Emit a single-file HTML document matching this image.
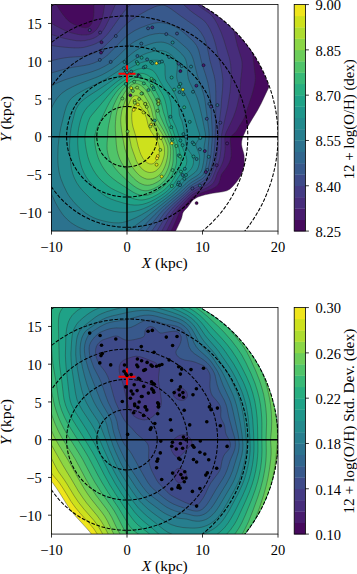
<!DOCTYPE html>
<html><head><meta charset="utf-8"><title>fig</title>
<style>
html,body{margin:0;padding:0;background:#fff;}
svg{display:block;}
.t{font-family:"Liberation Serif",serif;font-size:14.5px;fill:#000;}
</style></head><body>
<svg width="357" height="574" viewBox="0 0 357 574">
<rect width="357" height="574" fill="#fff"/>
<clipPath id="cr1"><rect x="51.50" y="4.57" width="226.50" height="226.50"/></clipPath>
<clipPath id="cc1"><circle cx="127.00" cy="136.70" r="151.00"/></clipPath>
<g clip-path="url(#cr1)">
<g clip-path="url(#cc1)">
<path d="M44,238.6 172,238.6 181,219.8 181.8,217.5 182.6,213.7 183.2,212.2 184.3,210.7 187.4,207.5 191.9,201.3 193.4,199.7 195.7,198.2 197.8,197.1 200.2,196.2 205.1,194.8 212.3,193.3 222.6,191.8 226.7,190.8 228.2,190.1 229.7,189.2 232.7,186.5 236.6,182 238.7,178.9 241,175.2 242.6,171.4 244,166.1 244.3,163.9 244.4,161.6 244.1,155.6 243.7,153.3 242,147.3 241.5,144.3 241.7,141.2 242.6,137.5 246.3,129.2 252.3,118.9 257.2,111 261.2,103.5 269,86.9 270.4,83.1 271.3,79.3 271.7,76.3 271.7,72.5 270.6,59.7 270.3,53.7 270.5,46.9 271.4,34 271.5,31 271.3,28 270.5,24.2 268.9,19.7 266.4,15.1 263,9.9 259.1,4.3 254.6,-3 44,-3 44,238.6Z" fill="#460a5d" stroke="#2a2a2a" stroke-width="0.55" stroke-opacity="0.7" fill-rule="evenodd"/>
<path d="M44,238.6 167.3,238.6 172.3,228.7 176.3,219.8 178.8,213.7 179.9,211.4 181.5,209.2 185.9,204.4 190.4,199 192.7,197 196.3,194.8 199.5,193.5 208.7,190.3 212.4,188.8 215.3,187.1 216.8,185.9 217.6,185 218.6,183.5 219.3,182 220,179.7 220.6,176.7 221.4,174.6 222.5,172.9 226,168.4 227.5,166.1 229.2,163.1 230.3,160.1 231,157.1 231.3,153.3 231.1,149.5 230.3,140.5 230.3,139 230.7,137.5 231.2,136.4 231.9,135.5 235,132.8 236.5,131 239.7,125.4 243.6,119.3 244.3,117.8 252.3,93.7 254.6,84.6 255.1,81.6 255.3,79.3 255.1,74.8 253.2,58.2 251.5,46.1 251.4,41.6 251.9,33.3 251.9,29.5 251.5,25.7 250.5,21.9 248.9,18.2 246.4,13.6 238.7,2.3 235,-3 225.9,-3 93.4,-3 93.9,5.3 93.9,12.1 93.7,15.9 93,19.7 92.3,21.9 91.7,23.5 90.8,25 90,26 88.4,27.2 87,27.6 85.5,27.8 82.5,27.4 79.3,26.5 73.6,24.2 70.4,22.4 68.8,21.2 66.5,18.9 62.8,14.4 59.7,9.9 54.5,1.3 51.6,-3 44,-3 44,238.6Z" fill="#481c6e" stroke="#2a2a2a" stroke-width="0.55" stroke-opacity="0.7" fill-rule="evenodd"/>
<path d="M44,238.6 162.3,238.6 166.6,231.1 174.8,214.5 177.1,210.7 180.1,206.9 188.7,197.9 192.1,194.8 194.2,193.5 196.5,192.2 205.5,188.4 208.5,186.8 211.2,185 213.4,182.8 214.4,181.2 215.1,179.7 217.5,172.9 221.4,165.4 223.2,160.9 224.1,157.1 224.9,151.8 225.1,147.3 224.8,139 225,136.7 225.3,135.2 225.9,133.1 226.7,131.2 230.7,123.1 233.7,116.3 235.6,111 237.3,105 239,97.4 239.9,91.4 240.3,86.9 240.7,80.1 241.8,71 242.1,65.7 242,62 241.5,58.9 237.3,45.3 234.5,33.3 233.1,28.7 231.7,25.7 228.5,19.7 225.6,12.9 223.6,9 222.3,6.8 221.2,5.3 219.9,4.1 218.4,2.9 209.4,-3 106.4,-3 104.9,3.1 103.4,12.9 102.5,17.4 101.2,21.2 99.5,25 98.2,27.2 96.8,29.2 95.3,30.8 93.8,32.1 92,33.3 90,34.2 88.5,34.6 86.2,35 81.7,35 77.2,34.3 71.9,33 66.6,31.2 61.2,28.7 54.3,25 50.6,22.7 44,18.2 44,238.6Z" fill="#472d7b" stroke="#2a2a2a" stroke-width="0.55" stroke-opacity="0.7" fill-rule="evenodd"/>
<path d="M44,238.6 157.2,238.6 161.8,231.1 167.9,219.8 170.1,216 173.2,211.4 176.9,206.9 188.2,195.7 191.2,193.1 193.4,191.5 195.7,190.2 203.4,186.5 206.3,184.9 209.1,182.8 211,180.5 212,179 213,176.7 217.8,164.6 219,160.9 219.9,157.1 220.9,149.5 221.3,138.2 221.8,133.7 225,118.6 227.6,107.3 230,92.2 230.9,82.3 231.1,71 230.9,67.2 230.6,64.2 229.4,58.2 223.9,40.1 221.2,32.5 217.4,24.2 214.4,18.9 212.7,16.7 210.8,14.6 208.8,12.9 206.7,11.4 201.7,8.1 198.7,5.7 195.4,2.3 191,-3 120,-3 117.5,0.8 115.4,4.6 113.7,8.4 109.3,18.9 105.9,25.7 104.2,28.7 102,31.8 99.1,34.8 96.8,36.5 93.8,38.2 90,39.5 84.7,40.6 80.9,40.9 76.4,40.7 70.4,39.7 63.6,38.2 50.7,34.3 44,32.4 44,238.6Z" fill="#443b84" stroke="#2a2a2a" stroke-width="0.55" stroke-opacity="0.7" fill-rule="evenodd"/>
<path d="M44,238.6 151.7,238.6 157.2,230.6 164.2,219 166.7,215.2 169.6,211.4 173.6,206.9 177.5,203.1 190.4,191.3 192.7,189.6 194.9,188.2 201.7,184.7 204.8,182.9 207,181.1 208.8,179 210.2,176.7 211.3,174.5 214.2,166.1 215.9,160.1 217,154.1 217.7,147.3 218.4,133.7 219.9,117.5 221.1,107.3 221.6,99 222.5,89.9 222.8,83.9 222.8,79.3 222.1,73.3 220.8,66.5 215.6,44.6 214.3,40.1 212.8,35.5 211.2,31.8 209.8,28.7 208,25.7 206.5,23.5 204.8,21.5 203.3,20 198.7,16.7 193.4,13 189.4,9.9 185.3,6.1 179,0 175.5,-3 140.7,-3 136.8,-0.4 133,2.6 130,5.2 127,8.2 124,11.6 121,15.5 110.6,30.2 107.6,34 104.9,37 102.1,39.6 99.5,41.6 96.8,43.2 93,44.8 87,46.6 83.2,47.5 78.7,47.9 74.1,47.9 66.6,47.4 59.8,46.7 50.7,45.4 44,45.2 44,238.6Z" fill="#3e4a89" stroke="#2a2a2a" stroke-width="0.55" stroke-opacity="0.7" fill-rule="evenodd"/>
<path d="M44,238.6 145.6,238.6 148.9,234.7 151.9,230.8 163.3,214.5 165.1,212.2 168.7,208.4 174.3,203.1 183.6,195 189.7,189.3 193.4,186.6 200.5,182.8 203,181.2 205.5,179.1 207,177.3 208.3,175.2 209.3,172.9 210.6,169.2 211.9,164.6 213.4,157.8 214.4,149.5 215.1,139 215.5,126.9 215.9,102.7 215.8,91.4 215.5,84.6 215,80.1 214.1,75.5 209.9,60.4 207.2,46.9 205.7,41.6 203.7,37 201,32.5 198,28.9 194.4,25.7 180.6,15.9 171.5,9.2 167.8,6.8 165.5,5.7 164,5.3 161.7,5.2 158.7,5.6 156.4,6.2 154.2,7 147.4,10.3 138.3,15.4 131.5,19.9 127.8,22.9 124,26.4 112.5,38.6 104.3,46.5 102.1,48.4 99.8,50 95.3,52.6 90,54.7 84.7,56 80.2,56.6 70.4,57.2 65.8,57.7 59.8,58.7 51.5,60.7 44,61.5 44,238.6Z" fill="#38598c" stroke="#2a2a2a" stroke-width="0.55" stroke-opacity="0.7" fill-rule="evenodd"/>
<path d="M44,238.6 138.1,238.6 142.1,234.9 145.9,231 159.3,214.5 162,211.4 165,208.4 173.5,200.9 182.6,193.3 186.6,189.3 188.9,187.2 192.7,184.5 201.7,179.2 203.8,177.5 205.1,176 206.4,173.7 207.6,170.7 208.6,166.9 209.8,161.6 210.9,154.8 212.1,140.5 212.3,135.2 212.2,129.2 210.4,98.2 209.3,89.9 207.8,82.3 206.1,76.3 201.7,62.7 199,51.4 197.9,48.4 196.5,45.5 194.9,43.3 192.8,40.8 186.3,34.8 181.4,30.6 177.5,28 173.1,25.6 168.5,23.9 165.5,23.3 162.5,22.8 160.2,22.6 158,22.6 153.4,23.3 147.4,25.2 139.8,28.1 134.5,30.7 130,33.6 126.2,36.4 122.5,39.8 111.1,51.6 107.4,55.2 103.5,58.2 101,59.7 98,61.2 93.8,63 89.2,64.5 84,65.6 72.6,67.3 67.4,68.4 52.8,72.5 44,75.4 44,238.6Z" fill="#31668e" stroke="#2a2a2a" stroke-width="0.55" stroke-opacity="0.7" fill-rule="evenodd"/>
<path d="M54,237.9 55.8,238.6 127.2,238.6 130,237.1 133,235.2 136.1,232.9 139.1,230.3 143.6,226.1 154.9,214.5 160.4,209.2 164.7,205.4 180.1,192.6 188.2,184.9 191.9,182.1 200.2,177.2 201.8,176 203.1,174.5 204.3,172.2 205.3,169.2 206.3,164.9 207.1,160.1 207.7,155.6 208.2,147.3 209.1,136.7 209,132.9 208.7,129.2 205.2,102 204.6,98.2 203.5,93.7 201.7,88.2 197.2,74.8 194,62 192.9,58.2 191.7,55.2 189.9,52.1 188.2,49.8 185.9,47.6 177.6,40.3 175.3,38.6 172.3,36.6 168.5,34.9 166.3,34.2 164,33.7 159.5,33.4 154.9,33.9 149.6,35.1 144.4,37 139.1,39.3 135.3,41.2 131.5,43.6 129.3,45.3 127,47.3 118.4,55.9 113.4,60.4 109.5,63.5 104.3,66.5 99.1,69.1 93,71.4 88.5,72.8 73.3,77.1 65.1,79.7 59.8,81.8 55.2,83.9 51.3,86.1 47.7,88.7 44,91.9 44,231 46.2,233.1 48.6,234.9 51,236.4 54,237.9Z" fill="#2c728e" stroke="#2a2a2a" stroke-width="0.55" stroke-opacity="0.7" fill-rule="evenodd"/>
<path d="M105,233.3 110.4,233.5 114.2,233.4 117.9,233 121.7,232.4 124.7,231.6 127,230.7 130,229.1 133.8,226.7 137.6,224 142.9,220 158.8,206.9 172.1,196.3 178.3,191.1 185.1,184.2 188.2,181.5 191.2,179.3 196.6,176 198.7,174.4 200.2,172.9 201,171.7 201.8,169.9 202.6,166.9 203.5,162.4 204.2,157.1 204.3,154.8 204.1,147.3 204.5,144.3 205.5,138.2 205.6,135.9 205.3,132.9 202.1,117.1 199.1,104.2 198,100.5 197,97.4 195.7,94.4 189.7,82.3 188.4,78.6 187.7,74.8 186.9,64.2 186.4,62 185.7,59.7 184.5,57.4 183.4,55.9 181.5,53.7 179.1,51.3 176.1,48.7 173.1,46.5 170,44.6 167.8,43.6 165.5,42.8 163.2,42.3 161,42.1 158.7,42.2 156.4,42.4 153.4,43 148.1,44.7 141.3,47.5 138.3,49.1 135.3,50.9 131.5,53.8 124.6,59.7 117.9,65 112.5,68.8 106.6,72.4 102.1,74.8 96.8,77.2 79.4,83.8 72.6,86.7 66.6,89.9 62.3,92.9 59.8,95.2 57.2,98.2 54.6,102 52.6,105.7 50.6,110.3 48.7,115.6 46,123.9 44,131.3 44,178.5 46.7,185 51.1,193.3 55.7,203.1 58.6,208.4 60.6,211.4 62.7,214.5 64.6,216.7 66.8,219 68.9,220.9 71.2,222.8 74.1,224.7 77.2,226.5 80.2,227.9 83.2,229.2 86.6,230.3 90,231.3 93.8,232.1 97.6,232.7 105,233.3Z" fill="#277e8e" stroke="#2a2a2a" stroke-width="0.55" stroke-opacity="0.7" fill-rule="evenodd"/>
<path d="M114.1,222.8 118.7,222.9 122.5,222.5 126.2,221.6 130,220.3 135.3,218 141.3,214.9 147.4,211.3 153.4,207.3 164,199.8 170.4,194.8 177,188.8 185.1,180.1 188.2,177.6 193.3,173.7 195.1,172.2 196.5,170.7 197.5,169.2 198.4,166.9 199,164.6 199.5,161.6 199.6,159.4 199.5,155.6 198.7,152.7 196.1,146.5 195.8,145 195.9,144.3 196.5,142.7 198.7,139.2 199.5,137.5 199.8,135.9 199.5,133.9 197,126.1 193.5,114.1 188.9,101.8 186.5,96.7 179.6,85.4 178.4,83.1 177.5,80.8 176.9,78.6 176.6,75.5 177.3,68 177.3,65.7 177,63.5 176.2,61.2 175.4,59.7 174.4,58.2 173.2,56.7 171.6,55.2 168.5,53 165.5,51.6 162.5,50.8 158.7,50.6 154.9,51 150.4,52.1 146.6,53.3 143.6,54.5 137.6,57.6 132.3,61 117.1,71.8 107.4,78.1 99.1,82.7 85.9,89.1 80.9,91.7 76.4,94.4 72.6,97.2 70.8,99 69.1,101.2 67.7,103.5 66.4,106.5 64.7,111.8 60.8,127.6 59.1,137.5 58.1,146.5 57.8,157.1 57.9,161.6 58.2,166.1 59.1,172.2 60.7,178.2 63.4,185 67,192.6 68.8,195.6 70.5,197.9 73.4,201.5 76.3,204.7 79.4,207.8 82.5,210.6 85.4,213 87.7,214.5 90.2,216 93.2,217.5 96.8,219 99.8,220 106.6,221.7 110.4,222.4 114.1,222.8Z" fill="#238a8d" stroke="#2a2a2a" stroke-width="0.55" stroke-opacity="0.7" fill-rule="evenodd"/>
<path d="M119.9,212.2 124.7,212.4 130,212.1 134.5,211.4 139.1,210.2 143.6,208.6 148.9,206.2 153.4,203.7 159.5,199.9 164,196.8 167,194.5 171,191.1 174.1,188 176.8,185 182.9,177.5 190.3,169.9 191.5,168.4 192.3,166.9 192.9,165.4 193.3,163.9 193.5,162.4 193.5,160.1 192.8,157.1 191.7,154.8 187.6,148.8 186.9,147.3 186.1,145 185.4,141.2 183.9,129.9 183.1,125.4 181.9,120.8 179.8,116.1 179.3,114.1 178.6,105 178,102 177.4,99.7 176.2,96.7 174.3,92.9 172,89.1 166.9,81.6 166.1,80.1 165.6,78.6 165.1,74.8 165,66.5 164.8,65 164.2,63.5 163.2,62.1 161.7,61.2 160.2,60.7 158,60.3 154.9,60.2 151.9,60.3 148.1,60.8 145.1,61.5 141.3,62.6 137.6,64.1 133.8,66 130,68.2 102.1,87.3 87.5,96.7 82.6,100.5 80.3,102.7 78.7,104.7 77.2,107.1 75.9,109.5 74.8,112.5 74,115.6 71.9,123.9 71,128.4 70.3,133.7 69.7,141.2 69.5,145 69.7,150.3 70.6,163.1 71.4,168.4 72.7,173.7 74.4,178.2 76.7,182.8 79.8,187.3 83.2,191.3 92.1,200.1 94.7,202.4 97.6,204.5 100.2,206.2 102.8,207.5 108.1,209.7 114.2,211.4 119.9,212.2Z" fill="#1f968b" stroke="#2a2a2a" stroke-width="0.55" stroke-opacity="0.7" fill-rule="evenodd"/>
<path d="M130.5,204.7 134.5,205.1 138.3,205 142.1,204.5 146.6,203.2 150.4,201.7 154.9,199.4 160.2,196.2 164.4,193.3 167.1,191.1 170.3,188 173,185 175.3,182 179.1,176.1 183.1,170.7 185,167.7 186.3,164.6 186.8,161.6 186.7,159.4 186.1,156.3 182.9,148.7 176.7,129.2 175.5,126.1 172,118.6 171.6,116.3 171.5,108 170.9,102.7 169.7,98.2 168.8,95.9 167.2,92.9 161,83.1 156.4,74.7 154.9,72.5 152.7,70.5 151.2,69.7 149.6,69 147.4,68.5 145.1,68.3 142.9,68.3 140.6,68.6 138.3,69.1 136.1,69.8 133,71.1 130,72.7 118.7,80.4 115.1,83.1 110.5,86.9 101.3,94.8 92,102.7 89.2,105.3 87,107.7 85,110.3 83.2,113.3 81.8,116.3 80.8,119.3 79.6,123.9 78.6,128.4 78,132.9 77.7,137.5 77.7,143.5 78.1,149.5 79.2,157.1 80.5,163.1 81.8,167.7 83.6,172.2 86,176.7 88.7,180.5 93,185.5 98.3,190.7 102.8,194.4 106.6,196.9 111.1,199.1 116.1,200.9 124.7,203.4 130.5,204.7Z" fill="#1fa287" stroke="#2a2a2a" stroke-width="0.55" stroke-opacity="0.7" fill-rule="evenodd"/>
<path d="M135.8,199.4 139.1,199.9 142.1,200 145.1,199.6 148.9,198.6 152.7,197.1 157.2,194.7 161.7,191.8 164.7,189.5 167.8,186.6 169.9,184.3 172.1,181.2 174,178.2 178.8,169.2 179.8,166.9 180.3,165.4 180.8,163.1 181,160.1 180.6,156.3 179.2,149.5 178.1,145 177.2,142 174.8,135.9 172.8,129.9 170,123 169,120.1 167.9,114.8 166,104.2 164.8,99.7 163.3,95.9 161.2,92.2 156.5,84.6 153.4,80.3 151.2,77.8 149.6,76.5 148.1,75.5 146.6,74.7 144.4,73.8 142.9,73.5 140.6,73.3 139.1,73.4 136.8,73.7 134.5,74.3 132.3,75.3 130,76.6 121,82.9 117.9,85.4 114.6,88.4 109.1,94.4 91.4,115.6 90,117.6 89.2,119.3 88,122.4 87,125.7 85.3,132.9 85,135.9 84.9,139 85.4,144.3 86.4,150.3 87.7,156.3 89.2,160.9 91,165.4 93.3,169.9 95.7,173.7 98.6,177.5 101.4,180.5 104.7,183.5 108.1,186.2 111.1,188.2 115.7,190.6 125.4,194.8 131.4,197.9 133.8,198.8 135.8,199.4Z" fill="#28ae80" stroke="#2a2a2a" stroke-width="0.55" stroke-opacity="0.7" fill-rule="evenodd"/>
<path d="M139.1,194.8 142.1,195.4 145.1,195.5 148.1,195 151.9,193.6 156.4,191.4 160.2,189.1 164,186.1 167,182.9 169.3,180 171.2,176.7 174.1,170.7 175.8,166.1 176.4,163.1 176.6,160.9 176.2,151.8 175.8,148 174.7,143.5 166.5,122.4 165.3,117.8 163.3,111.8 161.5,104.2 160.6,101.2 158.8,96.7 156,91.4 153,86.9 150.7,83.9 148.1,81.3 145.1,79.2 142.1,77.8 139.1,77.2 136.1,77.4 133,78.3 130.8,79.4 126.5,82.3 123.5,84.6 121,86.9 118.8,89.1 116.2,92.2 114,95.2 111.5,99 109.3,102.7 106.9,107.3 102.8,116 99.2,123.1 97.5,126.9 96.1,130.7 95.1,134.4 94.6,137.5 94.6,140.5 95.1,145 95.9,149.5 97,154.1 98.2,157.8 99.8,161.6 101.7,165.4 104.1,169.2 106.3,172.2 108.3,174.5 110.7,176.7 113.4,179 117.4,182 133,192.1 136.1,193.7 139.1,194.8Z" fill="#38b977" stroke="#2a2a2a" stroke-width="0.55" stroke-opacity="0.7" fill-rule="evenodd"/>
<path d="M142,190.3 145.1,190.8 147.4,190.7 150.4,189.9 153.4,188.8 157.2,186.8 160.2,184.8 163.2,182.2 165.5,179.7 167.7,176.7 169.3,173.7 170.9,169.9 172.2,166.1 172.7,163.9 173.1,160.9 173.3,151 172.8,146.5 171.8,142.7 167.5,132.2 160.3,116.3 159.6,114.1 158.2,107.3 157.3,104.2 156.3,101.2 154.7,97.4 152.7,93.7 150.9,90.6 149.3,88.4 147.4,86 145.1,83.9 142.9,82.3 141.3,81.5 139.1,80.8 137.6,80.5 136.1,80.5 134.5,80.7 133,81.2 130.8,82.3 127.7,84.6 124.4,87.6 121.3,91.4 118.3,95.9 115.9,100.5 113.5,105.7 112,110.3 111,114.1 108.6,125.4 107.9,130.7 107.6,136.7 107.1,142.7 107,146.5 107.1,149.5 107.6,152.6 108.3,155.6 109.1,157.8 110.4,160.9 112.1,163.9 114,166.9 115.8,169.2 118.4,172.2 121.4,175.2 127.1,180.5 130.6,183.5 133.8,186 136.8,188 139.8,189.5 142,190.3Z" fill="#50c46a" stroke="#2a2a2a" stroke-width="0.55" stroke-opacity="0.7" fill-rule="evenodd"/>
<path d="M144.6,185 147.4,185.3 149.6,185.1 152.7,184.3 154.9,183.3 158,181.6 160.2,180 162.5,177.8 164.7,175.2 166,172.9 167.4,169.9 168.5,166.9 169.3,163.9 169.9,160.9 170.3,157.8 170.6,153.3 170.6,149.5 170.3,146.5 169.7,144.3 166.3,135.8 163.2,129.8 157.2,119.4 156.4,117.9 155.1,110.3 154.3,107.3 153.4,104.2 151.8,100.5 148.1,93.7 145.6,89.9 142.8,86.9 141.3,85.7 139.8,84.8 137.6,83.9 135.3,83.7 133.8,83.8 131.9,84.6 129.9,86.1 127.1,89.1 124.9,92.2 123.1,95.2 121.3,99 119.1,104.2 117.8,108 116.8,111.8 116,116.3 115.5,121.6 115.3,126.1 115.4,130.7 116.3,144.3 117.1,150.3 117.8,153.3 118.7,156.3 119.9,159.4 121.4,162.4 123.7,166.1 126.4,169.9 130.7,175.2 133.6,178.2 136.1,180.5 139.2,182.8 142.1,184.2 144.6,185Z" fill="#6ccd5a" stroke="#2a2a2a" stroke-width="0.55" stroke-opacity="0.7" fill-rule="evenodd"/>
<path d="M146.5,179 148.1,179.2 150.4,179.1 152.7,178.7 154.9,177.9 157.1,176.7 158.7,175.5 160.2,174.2 161.9,172.2 163.3,169.9 164.7,166.9 165.8,163.9 166.6,160.9 167.3,157.8 167.7,154.8 167.9,151 167.8,148 167.6,146.5 166.9,144.3 163.8,136.7 161.7,133 156,123.9 154.2,120.4 153.3,117.8 151.4,109.5 150.4,106.7 149.4,104.2 147.8,101.2 144.2,95.2 142.1,92.2 140.6,90.6 138.7,89.1 136.8,88.2 135.3,87.8 133.8,88.1 132.3,89 130.8,90.5 129.3,92.4 128,94.4 126.8,96.7 125.6,99.7 122.9,107.3 121.8,111 121.3,114.1 120.8,117.8 120.7,120.8 120.9,124.6 121.6,130.7 124.1,145 124.9,148.8 126.8,154.8 129.9,162.4 131.4,165.4 133.3,168.4 135.3,171.1 137.6,173.6 139.8,175.7 142.1,177.2 144.4,178.3 146.5,179Z" fill="#8bd646" stroke="#2a2a2a" stroke-width="0.55" stroke-opacity="0.7" fill-rule="evenodd"/>
<path d="M147.9,172.2 149.6,172.5 151.2,172.4 152.7,172.2 154.2,171.7 155.7,170.9 157.2,169.8 159.5,167.3 160.7,165.4 161.8,163.1 162.9,160.1 163.8,157.1 164.3,154.8 164.5,152.6 164.4,148 163.9,145.8 163.2,143.6 161,138.2 159.7,135.9 154.6,128.4 152.2,123.9 151.1,120.8 148.7,112.5 146.6,107.3 145.1,104.5 143.6,102.2 140.4,98.2 139.1,97 137.6,96 136.1,95.6 135.3,95.6 134.2,95.9 133,96.6 131.6,98.2 130.8,99.5 129.6,102 128.2,105.7 126.6,111 125.9,116.3 125.9,119.3 126.1,122.4 126.9,127.6 129.3,136.7 131.3,146.5 132.8,151 136.4,160.9 137.6,163.1 139,165.4 141.5,168.4 142.9,169.6 144.4,170.7 145.9,171.5 147.9,172.2Z" fill="#addc30" stroke="#2a2a2a" stroke-width="0.55" stroke-opacity="0.7" fill-rule="evenodd"/>
<path d="M149.7,163.9 151.9,164 153.4,163.5 154.9,162.4 156.6,160.1 158,157.3 159.2,153.3 159.6,150.3 159.4,147.3 158.6,144.3 157.2,140.9 155.7,138.4 151.5,132.2 149.4,128.4 148,124.6 146.4,117.8 145.1,114.4 142.9,109.8 141.3,107.6 140.4,106.5 138.3,104.9 136.8,104.5 136.1,104.5 135.3,104.8 134.5,105.4 133.4,107.3 132.3,110.3 131.8,113.3 131.7,115.6 131.8,119.3 132.2,123.1 133,127.1 135.7,135.9 138.2,146.5 139.8,151.7 141,154.8 142.9,158.3 145.1,161.1 147.4,162.9 149.7,163.9Z" fill="#cde11d" stroke="#2a2a2a" stroke-width="0.55" stroke-opacity="0.7" fill-rule="evenodd"/>
</g>
<circle cx="127.00" cy="136.70" r="30.20" fill="none" stroke="#000" stroke-width="1.05" stroke-dasharray="3.7,1.6"/>
<circle cx="127.00" cy="136.70" r="60.40" fill="none" stroke="#000" stroke-width="1.05" stroke-dasharray="3.7,1.6"/>
<circle cx="127.00" cy="136.70" r="90.60" fill="none" stroke="#000" stroke-width="1.05" stroke-dasharray="3.7,1.6"/>
<circle cx="127.00" cy="136.70" r="120.80" fill="none" stroke="#000" stroke-width="1.05" stroke-dasharray="3.7,1.6"/>
<circle cx="127.00" cy="136.70" r="151.00" fill="none" stroke="#000" stroke-width="1.05" stroke-dasharray="3.7,1.6"/>
<line x1="127.00" y1="4.57" x2="127.00" y2="231.07" stroke="#000" stroke-width="1.45"/>
<line x1="51.50" y1="136.70" x2="278.00" y2="136.70" stroke="#000" stroke-width="1.45"/>
<path d="M118.50,73.73H135.50M127.00,65.23V82.23" stroke="#f00" stroke-width="2.1" fill="none"/>
<circle cx="89.7" cy="30.1" r="1.5" fill="#404688" stroke="#000" stroke-width="0.45"/>
<circle cx="100.1" cy="32.5" r="1.5" fill="#433d84" stroke="#000" stroke-width="0.45"/>
<circle cx="115.8" cy="36.0" r="1.5" fill="#39558c" stroke="#000" stroke-width="0.45"/>
<circle cx="101.5" cy="42.2" r="1.5" fill="#48186a" stroke="#000" stroke-width="0.45"/>
<circle cx="102.3" cy="50.6" r="1.5" fill="#3c4f8a" stroke="#000" stroke-width="0.45"/>
<circle cx="101.0" cy="52.6" r="1.5" fill="#471365" stroke="#000" stroke-width="0.45"/>
<circle cx="99.8" cy="59.9" r="1.5" fill="#365d8d" stroke="#000" stroke-width="0.45"/>
<circle cx="110.7" cy="61.9" r="1.5" fill="#355e8d" stroke="#000" stroke-width="0.45"/>
<circle cx="124.5" cy="62.0" r="1.5" fill="#297b8e" stroke="#000" stroke-width="0.45"/>
<circle cx="141.3" cy="43.6" r="1.5" fill="#30698e" stroke="#000" stroke-width="0.45"/>
<circle cx="137.4" cy="56.0" r="1.5" fill="#31688e" stroke="#000" stroke-width="0.45"/>
<circle cx="141.6" cy="57.7" r="1.5" fill="#1f998a" stroke="#000" stroke-width="0.45"/>
<circle cx="136.8" cy="62.0" r="1.5" fill="#1e9c89" stroke="#000" stroke-width="0.45"/>
<circle cx="137.8" cy="63.7" r="1.5" fill="#2ab07f" stroke="#000" stroke-width="0.45"/>
<circle cx="124.0" cy="68.3" r="1.5" fill="#23888e" stroke="#000" stroke-width="0.45"/>
<circle cx="125.8" cy="70.8" r="1.5" fill="#23888e" stroke="#000" stroke-width="0.45"/>
<circle cx="127.0" cy="72.5" r="1.5" fill="#228c8d" stroke="#000" stroke-width="0.45"/>
<circle cx="131.2" cy="71.6" r="1.5" fill="#287d8e" stroke="#000" stroke-width="0.45"/>
<circle cx="138.4" cy="75.3" r="1.5" fill="#471365" stroke="#000" stroke-width="0.45"/>
<circle cx="139.6" cy="76.2" r="1.5" fill="#1e9c89" stroke="#000" stroke-width="0.45"/>
<circle cx="125.8" cy="83.9" r="1.5" fill="#1fa187" stroke="#000" stroke-width="0.45"/>
<circle cx="134.2" cy="81.7" r="1.5" fill="#42be71" stroke="#000" stroke-width="0.45"/>
<circle cx="131.2" cy="88.1" r="1.5" fill="#dfe318" stroke="#000" stroke-width="0.45"/>
<circle cx="137.1" cy="87.6" r="1.5" fill="#84d44b" stroke="#000" stroke-width="0.45"/>
<circle cx="132.9" cy="91.0" r="1.5" fill="#56c667" stroke="#000" stroke-width="0.45"/>
<circle cx="142.1" cy="93.5" r="1.5" fill="#5ec962" stroke="#000" stroke-width="0.45"/>
<circle cx="130.4" cy="95.2" r="1.5" fill="#471365" stroke="#000" stroke-width="0.45"/>
<circle cx="122.3" cy="98.5" r="1.5" fill="#5cc863" stroke="#000" stroke-width="0.45"/>
<circle cx="139.1" cy="99.0" r="1.5" fill="#7cd250" stroke="#000" stroke-width="0.45"/>
<circle cx="134.6" cy="101.0" r="1.5" fill="#a2da37" stroke="#000" stroke-width="0.45"/>
<circle cx="137.9" cy="104.4" r="1.5" fill="#e5e419" stroke="#000" stroke-width="0.45"/>
<circle cx="133.7" cy="109.8" r="1.5" fill="#fde725" stroke="#000" stroke-width="0.45"/>
<circle cx="143.8" cy="67.4" r="1.5" fill="#26828e" stroke="#000" stroke-width="0.45"/>
<circle cx="143.8" cy="83.4" r="1.5" fill="#31b57b" stroke="#000" stroke-width="0.45"/>
<circle cx="148.1" cy="28.3" r="1.5" fill="#3b528b" stroke="#000" stroke-width="0.45"/>
<circle cx="152.3" cy="27.4" r="1.5" fill="#472c7a" stroke="#000" stroke-width="0.45"/>
<circle cx="166.3" cy="34.1" r="1.5" fill="#38598c" stroke="#000" stroke-width="0.45"/>
<circle cx="177.0" cy="33.5" r="1.5" fill="#3c4f8a" stroke="#000" stroke-width="0.45"/>
<circle cx="172.6" cy="42.5" r="1.5" fill="#23898e" stroke="#000" stroke-width="0.45"/>
<circle cx="154.0" cy="49.3" r="1.5" fill="#277f8e" stroke="#000" stroke-width="0.45"/>
<circle cx="147.1" cy="59.4" r="1.5" fill="#2e6f8e" stroke="#000" stroke-width="0.45"/>
<circle cx="151.0" cy="62.0" r="1.5" fill="#1f9f88" stroke="#000" stroke-width="0.45"/>
<circle cx="152.3" cy="63.2" r="1.5" fill="#228d8d" stroke="#000" stroke-width="0.45"/>
<circle cx="156.5" cy="63.2" r="1.5" fill="#fde725" stroke="#000" stroke-width="0.45"/>
<circle cx="159.4" cy="62.4" r="1.5" fill="#24868e" stroke="#000" stroke-width="0.45"/>
<circle cx="161.9" cy="61.5" r="1.5" fill="#25858e" stroke="#000" stroke-width="0.45"/>
<circle cx="169.1" cy="57.0" r="1.5" fill="#2a778e" stroke="#000" stroke-width="0.45"/>
<circle cx="145.4" cy="66.6" r="1.5" fill="#1f9a8a" stroke="#000" stroke-width="0.45"/>
<circle cx="178.7" cy="63.7" r="1.5" fill="#39558c" stroke="#000" stroke-width="0.45"/>
<circle cx="181.7" cy="66.1" r="1.5" fill="#297a8e" stroke="#000" stroke-width="0.45"/>
<circle cx="180.4" cy="71.1" r="1.5" fill="#471365" stroke="#000" stroke-width="0.45"/>
<circle cx="191.0" cy="66.6" r="1.5" fill="#26828e" stroke="#000" stroke-width="0.45"/>
<circle cx="171.6" cy="77.5" r="1.5" fill="#1f9f88" stroke="#000" stroke-width="0.45"/>
<circle cx="151.5" cy="78.8" r="1.5" fill="#40bd72" stroke="#000" stroke-width="0.45"/>
<circle cx="153.2" cy="80.5" r="1.5" fill="#4ec36b" stroke="#000" stroke-width="0.45"/>
<circle cx="154.3" cy="81.2" r="1.5" fill="#20928c" stroke="#000" stroke-width="0.45"/>
<circle cx="151.8" cy="85.9" r="1.5" fill="#50c46a" stroke="#000" stroke-width="0.45"/>
<circle cx="153.2" cy="87.6" r="1.5" fill="#20928c" stroke="#000" stroke-width="0.45"/>
<circle cx="153.8" cy="89.3" r="1.5" fill="#25ab82" stroke="#000" stroke-width="0.45"/>
<circle cx="148.4" cy="90.1" r="1.5" fill="#1fa188" stroke="#000" stroke-width="0.45"/>
<circle cx="180.4" cy="83.9" r="1.5" fill="#1f968b" stroke="#000" stroke-width="0.45"/>
<circle cx="179.0" cy="86.7" r="1.5" fill="#1fa088" stroke="#000" stroke-width="0.45"/>
<circle cx="182.9" cy="89.6" r="1.5" fill="#dfe318" stroke="#000" stroke-width="0.45"/>
<circle cx="174.2" cy="89.6" r="1.5" fill="#29af7f" stroke="#000" stroke-width="0.45"/>
<circle cx="179.5" cy="92.1" r="1.5" fill="#287c8e" stroke="#000" stroke-width="0.45"/>
<circle cx="183.4" cy="94.3" r="1.5" fill="#23898e" stroke="#000" stroke-width="0.45"/>
<circle cx="193.0" cy="91.8" r="1.5" fill="#287d8e" stroke="#000" stroke-width="0.45"/>
<circle cx="141.4" cy="93.5" r="1.5" fill="#52c569" stroke="#000" stroke-width="0.45"/>
<circle cx="157.7" cy="99.7" r="1.5" fill="#4ac16d" stroke="#000" stroke-width="0.45"/>
<circle cx="158.5" cy="101.0" r="1.5" fill="#8ed645" stroke="#000" stroke-width="0.45"/>
<circle cx="145.4" cy="103.9" r="1.5" fill="#63cb5f" stroke="#000" stroke-width="0.45"/>
<circle cx="158.5" cy="103.6" r="1.5" fill="#fde725" stroke="#000" stroke-width="0.45"/>
<circle cx="146.8" cy="106.9" r="1.5" fill="#90d743" stroke="#000" stroke-width="0.45"/>
<circle cx="184.2" cy="107.3" r="1.5" fill="#26ad81" stroke="#000" stroke-width="0.45"/>
<circle cx="157.7" cy="110.8" r="1.5" fill="#60ca60" stroke="#000" stroke-width="0.45"/>
<circle cx="203.5" cy="65.2" r="1.5" fill="#481d6f" stroke="#000" stroke-width="0.45"/>
<circle cx="196.4" cy="85.7" r="1.5" fill="#482475" stroke="#000" stroke-width="0.45"/>
<circle cx="209.4" cy="103.9" r="1.5" fill="#31688e" stroke="#000" stroke-width="0.45"/>
<circle cx="211.0" cy="106.7" r="1.5" fill="#424086" stroke="#000" stroke-width="0.45"/>
<circle cx="217.4" cy="105.1" r="1.5" fill="#2f6b8e" stroke="#000" stroke-width="0.45"/>
<circle cx="206.8" cy="118.8" r="1.5" fill="#3b518b" stroke="#000" stroke-width="0.45"/>
<circle cx="220.3" cy="122.7" r="1.5" fill="#404688" stroke="#000" stroke-width="0.45"/>
<circle cx="189.7" cy="121.9" r="1.5" fill="#1f968b" stroke="#000" stroke-width="0.45"/>
<circle cx="134.8" cy="102.8" r="1.5" fill="#89d548" stroke="#000" stroke-width="0.45"/>
<circle cx="145.2" cy="104.0" r="1.5" fill="#a0da39" stroke="#000" stroke-width="0.45"/>
<circle cx="158.3" cy="104.0" r="1.5" fill="#6ece58" stroke="#000" stroke-width="0.45"/>
<circle cx="143.5" cy="112.4" r="1.5" fill="#c0df25" stroke="#000" stroke-width="0.45"/>
<circle cx="170.4" cy="116.8" r="1.5" fill="#218f8d" stroke="#000" stroke-width="0.45"/>
<circle cx="154.8" cy="120.5" r="1.5" fill="#1f9e89" stroke="#000" stroke-width="0.45"/>
<circle cx="151.1" cy="124.7" r="1.5" fill="#fde725" stroke="#000" stroke-width="0.45"/>
<circle cx="150.3" cy="126.4" r="1.5" fill="#93d741" stroke="#000" stroke-width="0.45"/>
<circle cx="171.3" cy="127.2" r="1.5" fill="#1fa088" stroke="#000" stroke-width="0.45"/>
<circle cx="127.6" cy="131.4" r="1.5" fill="#69cd5b" stroke="#000" stroke-width="0.45"/>
<circle cx="160.8" cy="138.1" r="1.5" fill="#b0dd2f" stroke="#000" stroke-width="0.45"/>
<circle cx="172.4" cy="139.3" r="1.5" fill="#25ac82" stroke="#000" stroke-width="0.45"/>
<circle cx="171.8" cy="143.2" r="1.5" fill="#fde725" stroke="#000" stroke-width="0.45"/>
<circle cx="176.3" cy="146.0" r="1.5" fill="#3fbc73" stroke="#000" stroke-width="0.45"/>
<circle cx="160.3" cy="149.9" r="1.5" fill="#8bd646" stroke="#000" stroke-width="0.45"/>
<circle cx="157.8" cy="156.1" r="1.5" fill="#fde725" stroke="#000" stroke-width="0.45"/>
<circle cx="157.0" cy="158.3" r="1.5" fill="#fde725" stroke="#000" stroke-width="0.45"/>
<circle cx="156.6" cy="164.7" r="1.5" fill="#dfe318" stroke="#000" stroke-width="0.45"/>
<circle cx="178.8" cy="155.4" r="1.5" fill="#20938c" stroke="#000" stroke-width="0.45"/>
<circle cx="172.6" cy="170.1" r="1.5" fill="#37b878" stroke="#000" stroke-width="0.45"/>
<circle cx="161.7" cy="176.5" r="1.5" fill="#dfe318" stroke="#000" stroke-width="0.45"/>
<circle cx="171.8" cy="186.0" r="1.5" fill="#31b57b" stroke="#000" stroke-width="0.45"/>
<circle cx="178.0" cy="184.4" r="1.5" fill="#21918c" stroke="#000" stroke-width="0.45"/>
<circle cx="183.4" cy="134.1" r="1.5" fill="#24878e" stroke="#000" stroke-width="0.45"/>
<circle cx="186.0" cy="136.8" r="1.5" fill="#26818e" stroke="#000" stroke-width="0.45"/>
<circle cx="200.3" cy="138.0" r="1.5" fill="#21908d" stroke="#000" stroke-width="0.45"/>
<circle cx="227.1" cy="143.4" r="1.5" fill="#482576" stroke="#000" stroke-width="0.45"/>
<circle cx="180.4" cy="140.5" r="1.5" fill="#20928c" stroke="#000" stroke-width="0.45"/>
<circle cx="182.6" cy="145.2" r="1.5" fill="#1f968b" stroke="#000" stroke-width="0.45"/>
<circle cx="192.7" cy="142.5" r="1.5" fill="#277e8e" stroke="#000" stroke-width="0.45"/>
<circle cx="194.0" cy="144.2" r="1.5" fill="#20938c" stroke="#000" stroke-width="0.45"/>
<circle cx="199.9" cy="149.3" r="1.5" fill="#2c738e" stroke="#000" stroke-width="0.45"/>
<circle cx="204.8" cy="151.1" r="1.5" fill="#482475" stroke="#000" stroke-width="0.45"/>
<circle cx="180.1" cy="156.5" r="1.5" fill="#38b977" stroke="#000" stroke-width="0.45"/>
<circle cx="193.5" cy="156.5" r="1.5" fill="#1f988b" stroke="#000" stroke-width="0.45"/>
<circle cx="196.6" cy="159.0" r="1.5" fill="#297a8e" stroke="#000" stroke-width="0.45"/>
<circle cx="208.7" cy="156.8" r="1.5" fill="#26828e" stroke="#000" stroke-width="0.45"/>
<circle cx="216.7" cy="165.2" r="1.5" fill="#482878" stroke="#000" stroke-width="0.45"/>
<circle cx="180.9" cy="171.6" r="1.5" fill="#22a884" stroke="#000" stroke-width="0.45"/>
<circle cx="184.8" cy="168.8" r="1.5" fill="#228d8d" stroke="#000" stroke-width="0.45"/>
<circle cx="182.6" cy="175.0" r="1.5" fill="#2b748e" stroke="#000" stroke-width="0.45"/>
<circle cx="186.0" cy="175.0" r="1.5" fill="#20938c" stroke="#000" stroke-width="0.45"/>
<circle cx="184.3" cy="178.8" r="1.5" fill="#21908d" stroke="#000" stroke-width="0.45"/>
<circle cx="207.3" cy="169.9" r="1.5" fill="#34608d" stroke="#000" stroke-width="0.45"/>
<circle cx="205.8" cy="172.1" r="1.5" fill="#482475" stroke="#000" stroke-width="0.45"/>
<circle cx="178.7" cy="182.5" r="1.5" fill="#25838e" stroke="#000" stroke-width="0.45"/>
<circle cx="180.1" cy="185.1" r="1.5" fill="#2a778e" stroke="#000" stroke-width="0.45"/>
<circle cx="192.4" cy="188.4" r="1.5" fill="#3f4889" stroke="#000" stroke-width="0.45"/>
<circle cx="199.9" cy="185.6" r="1.5" fill="#2e6d8e" stroke="#000" stroke-width="0.45"/>
<circle cx="196.6" cy="203.1" r="1.5" fill="#440154" stroke="#000" stroke-width="0.45"/>
</g>
<rect x="51.50" y="4.57" width="226.50" height="226.50" fill="none" stroke="#000" stroke-width="0.8"/>
<line x1="51.50" y1="231.07" x2="51.50" y2="234.57" stroke="#000" stroke-width="0.8"/>
<text x="51.50" y="251.88" text-anchor="middle" class="t">−10</text>
<line x1="127.00" y1="231.07" x2="127.00" y2="234.57" stroke="#000" stroke-width="0.8"/>
<text x="127.00" y="251.88" text-anchor="middle" class="t">0</text>
<line x1="202.50" y1="231.07" x2="202.50" y2="234.57" stroke="#000" stroke-width="0.8"/>
<text x="202.50" y="251.88" text-anchor="middle" class="t">10</text>
<line x1="278.00" y1="231.07" x2="278.00" y2="234.57" stroke="#000" stroke-width="0.8"/>
<text x="278.00" y="251.88" text-anchor="middle" class="t">20</text>
<line x1="48.00" y1="212.20" x2="51.50" y2="212.20" stroke="#000" stroke-width="0.8"/>
<text x="41.70" y="217.80" text-anchor="end" class="t">−10</text>
<line x1="48.00" y1="174.45" x2="51.50" y2="174.45" stroke="#000" stroke-width="0.8"/>
<text x="41.70" y="180.05" text-anchor="end" class="t">−5</text>
<line x1="48.00" y1="136.70" x2="51.50" y2="136.70" stroke="#000" stroke-width="0.8"/>
<text x="41.70" y="142.30" text-anchor="end" class="t">0</text>
<line x1="48.00" y1="98.95" x2="51.50" y2="98.95" stroke="#000" stroke-width="0.8"/>
<text x="41.70" y="104.55" text-anchor="end" class="t">5</text>
<line x1="48.00" y1="61.20" x2="51.50" y2="61.20" stroke="#000" stroke-width="0.8"/>
<text x="41.70" y="66.80" text-anchor="end" class="t">10</text>
<line x1="48.00" y1="23.45" x2="51.50" y2="23.45" stroke="#000" stroke-width="0.8"/>
<text x="41.70" y="29.05" text-anchor="end" class="t">15</text>
<text x="164.75" y="267.68" text-anchor="middle" class="t" textLength="46" lengthAdjust="spacingAndGlyphs"><tspan font-style="italic">X</tspan> (kpc)</text>
<text transform="translate(10.60,119.12) rotate(-90)" text-anchor="middle" class="t" textLength="46" lengthAdjust="spacingAndGlyphs"><tspan font-style="italic">Y</tspan> (kpc)</text>
<rect x="294.20" y="219.75" width="11.20" height="11.62" fill="#460a5d"/>
<rect x="294.20" y="208.42" width="11.20" height="11.62" fill="#481c6e"/>
<rect x="294.20" y="197.10" width="11.20" height="11.62" fill="#472d7b"/>
<rect x="294.20" y="185.77" width="11.20" height="11.62" fill="#443b84"/>
<rect x="294.20" y="174.45" width="11.20" height="11.62" fill="#3e4a89"/>
<rect x="294.20" y="163.12" width="11.20" height="11.62" fill="#38598c"/>
<rect x="294.20" y="151.80" width="11.20" height="11.62" fill="#31668e"/>
<rect x="294.20" y="140.47" width="11.20" height="11.62" fill="#2c728e"/>
<rect x="294.20" y="129.15" width="11.20" height="11.62" fill="#277e8e"/>
<rect x="294.20" y="117.82" width="11.20" height="11.62" fill="#238a8d"/>
<rect x="294.20" y="106.50" width="11.20" height="11.62" fill="#1f968b"/>
<rect x="294.20" y="95.17" width="11.20" height="11.62" fill="#1fa287"/>
<rect x="294.20" y="83.85" width="11.20" height="11.62" fill="#28ae80"/>
<rect x="294.20" y="72.52" width="11.20" height="11.62" fill="#38b977"/>
<rect x="294.20" y="61.20" width="11.20" height="11.62" fill="#50c46a"/>
<rect x="294.20" y="49.88" width="11.20" height="11.62" fill="#6ccd5a"/>
<rect x="294.20" y="38.55" width="11.20" height="11.62" fill="#8bd646"/>
<rect x="294.20" y="27.22" width="11.20" height="11.62" fill="#addc30"/>
<rect x="294.20" y="15.90" width="11.20" height="11.62" fill="#cde11d"/>
<rect x="294.20" y="4.57" width="11.20" height="11.62" fill="#efe51c"/>
<rect x="294.20" y="4.57" width="11.20" height="226.50" fill="none" stroke="#000" stroke-width="0.8"/>
<line x1="305.40" y1="231.07" x2="308.90" y2="231.07" stroke="#000" stroke-width="0.8"/>
<text x="315.50" y="236.88" class="t">8.25</text>
<line x1="305.40" y1="185.77" x2="308.90" y2="185.77" stroke="#000" stroke-width="0.8"/>
<text x="315.50" y="191.57" class="t">8.40</text>
<line x1="305.40" y1="140.47" x2="308.90" y2="140.47" stroke="#000" stroke-width="0.8"/>
<text x="315.50" y="146.27" class="t">8.55</text>
<line x1="305.40" y1="95.17" x2="308.90" y2="95.17" stroke="#000" stroke-width="0.8"/>
<text x="315.50" y="100.97" class="t">8.70</text>
<line x1="305.40" y1="49.87" x2="308.90" y2="49.87" stroke="#000" stroke-width="0.8"/>
<text x="315.50" y="55.67" class="t">8.85</text>
<line x1="305.40" y1="4.57" x2="308.90" y2="4.57" stroke="#000" stroke-width="0.8"/>
<text x="315.50" y="10.37" class="t">9.00</text>
<text transform="translate(353.60,119.32) rotate(-90)" text-anchor="middle" class="t" textLength="120" lengthAdjust="spacingAndGlyphs">12 + log(O/H) (dex)</text>
<clipPath id="cr2"><rect x="51.50" y="307.57" width="226.50" height="226.50"/></clipPath>
<clipPath id="cc2"><circle cx="127.00" cy="439.70" r="151.00"/></clipPath>
<g clip-path="url(#cr2)">
<g clip-path="url(#cc2)">
<path d="M44,541.6 285.5,541.6 285.5,300 44,300 44,541.6Z" fill="#460a5d" stroke="#2a2a2a" stroke-width="0.55" stroke-opacity="0.7" fill-rule="evenodd"/>
<path d="M44,541.6 285.5,541.6 285.5,300 44,300 44,541.6Z" fill="#481c6e" stroke="#2a2a2a" stroke-width="0.55" stroke-opacity="0.7" fill-rule="evenodd"/>
<path d="M44,541.6 285.5,541.6 285.5,300 44,300 44,541.6Z" fill="#472d7b" stroke="#2a2a2a" stroke-width="0.55" stroke-opacity="0.7" fill-rule="evenodd"/>
<path d="M44,541.6 285.5,541.6 285.5,300 44,300 44,541.6Z" fill="#443b84" stroke="#2a2a2a" stroke-width="0.55" stroke-opacity="0.7" fill-rule="evenodd"/>
<path d="M44,541.6 285.5,541.6 285.5,300 44,300 44,541.6ZM140.6,419.3 138.3,418.6 136.8,417.9 135.3,417 133.8,415.9 132.6,414.8 131.5,413.4 129.8,410.3 128.4,406.5 126.8,401.2 125.1,392.9 122.7,383.1 119.8,374 119.4,371.8 119.2,369.5 119.4,366.5 120,364.2 120.9,362.7 121.5,361.9 123.4,360.4 125.5,359.3 127.8,358.4 133,356.7 135.3,356.4 136.8,356.3 139.8,356.7 142.9,357.6 148.1,359.6 154.2,362.1 155.7,362.9 157.2,364 158.2,365 158.7,365.8 159.2,367.2 159.4,369.5 158.5,377 158.5,380.8 159.1,385.3 160.6,394.4 161.3,399.7 161.4,402 161.2,404.2 160.9,405.7 160.4,407.2 159.6,408.7 156.4,413.1 153.1,416.3 150.4,418.2 148.9,419 147.4,419.5 144.4,419.9 142.9,419.8 140.6,419.3ZM178.3,482.8 177.6,482.3 176.6,481.2 175.5,479.7 174.8,478.2 173.8,475.2 173.8,473.7 173.9,472.9 174.6,471.4 175.3,470.4 176.1,469.7 177.6,468.8 178.3,468.6 179.8,468.5 181.9,469.1 182.9,469.6 184.4,470.7 185.1,471.5 185.9,472.6 186.3,473.7 186.7,475.2 186.7,476.7 186.5,477.5 185.9,478.8 185.2,479.7 184.4,480.6 182.9,481.8 180.6,482.9 179.1,483 178.3,482.8ZM176.8,457.3 175.3,456 173.8,454.4 172.3,452.1 171.4,450.3 170.9,448 170.7,446.5 170.9,445 171.5,442.9 172.4,441.2 173.8,439.4 175.3,438 177.6,436.4 179.8,435.3 181.4,434.9 183.6,434.6 185.1,434.8 186.6,435.3 188.2,436.2 189.5,437.4 190.7,438.9 191.5,440.5 191.9,442 191.8,443.5 191.5,444.2 190.4,445.7 185.9,450.5 179.1,457.3 178.3,457.7 177.6,457.6 176.8,457.3ZM178.3,399.7 176.8,399 175.7,398.2 174.2,396.7 173.4,395.2 173.3,394.4 173.4,392.9 173.8,391.9 174.9,390.6 176.1,389.6 177.6,388.7 179.8,388 181.4,388.1 182.4,388.4 183.6,389 184.8,389.9 185.9,391.1 186.6,392.1 187.4,394.4 187.4,395.9 187.2,396.7 186.6,397.8 185.9,398.8 184.6,399.7 183.6,400.1 181.4,400.4 179.8,400.2 178.3,399.7Z" fill="#3e4a89" stroke="#2a2a2a" stroke-width="0.55" stroke-opacity="0.7" fill-rule="evenodd"/>
<path d="M44,541.6 285.5,541.6 285.5,300 44,300 44,541.6ZM194.2,505.4 189.7,504.2 185.1,502.4 176.8,498.5 171.6,495.6 169.3,493.9 167,491.8 159.1,483.5 157.3,481.2 156,479 151.7,470.7 150.5,467.6 149.4,463.9 148.8,460.8 148.5,457.8 148.8,450.3 148.7,448 148.3,445.7 147.7,444.2 146.8,442.7 145.5,441.2 139,435.9 136.1,433.2 131.9,428.4 126.6,423.1 125.4,421.6 124,419.5 122.5,416.8 117.8,407.2 115.5,402 113.8,396.7 110.1,383.1 108.8,379.3 107.6,376.3 106.1,373.3 104.3,370.5 102.4,368 99.8,365 98.7,363.4 97.6,360.9 96.3,357.4 95.7,354.4 95.5,352.1 95.7,349.1 96.3,346.8 97.4,344.6 99.1,342.6 100.6,341.3 102.8,339.9 113.4,336.4 115.7,336 117.2,336.2 118.7,336.7 122.5,338.8 124.7,339.8 127,340.3 130,340.3 133.8,339.7 140.6,338.1 142.9,337.2 144,336.3 144.5,335.5 144.7,334.8 145,331 145.6,329.5 146.2,328.7 147.4,327.6 148.9,326.9 150.4,326.6 152.7,327 154.5,328 156.2,329.5 158.7,332.2 160.2,333 162.5,333 170,331.6 173.8,331.3 175.3,331.3 176.8,331.7 178.3,332.4 179.1,333.1 180.3,334.8 181,336.3 181.2,337.8 181.2,340 180.6,342.4 179.8,344.6 178.3,347.4 176.3,350.6 176,351.4 175.9,352.9 176.4,354.4 177.4,355.9 178.3,356.9 179.8,358 181.5,358.9 185.1,360.2 191.2,361.1 194.9,362.1 203.3,365.5 204.8,366.5 206.3,368 207.8,370 209.2,372.5 210,374.8 210.2,377.8 209.9,383.8 209.9,386.9 210.3,389.9 211,392.9 212.1,395.2 213.2,396.7 217.6,401.8 218.8,403.5 219.9,405.3 220.6,407.2 220.9,410.3 220.7,415.5 221,417.8 221.6,419.3 223.6,423.2 224.4,425.1 224.8,426.9 225.5,432.2 226.2,434.4 226.9,435.9 229,439.7 230,442 230.4,444.2 230.2,446.5 229.7,448 228.9,449.4 224.8,454 223.9,455.6 223.2,457.1 222,460.8 220.8,467.6 219.6,470.7 218.4,472.7 211,482.7 209.6,485 208.4,487.3 205.7,493.3 203.3,497.8 200.2,502.2 198.1,504.6 197.2,505.2 196.5,505.5 195.7,505.6 194.2,505.4Z" fill="#38598c" stroke="#2a2a2a" stroke-width="0.55" stroke-opacity="0.7" fill-rule="evenodd"/>
<path d="M44,541.6 285.5,541.6 285.5,300 44,300 44,541.6ZM193.4,510.8 189.7,509.8 178.3,506.1 173.1,503.9 169.3,501.8 164.7,498.6 154.7,490.3 150.9,486.5 148,482.7 143.9,475.9 131.7,454 129.7,451 124.7,444.8 122.5,441 121.3,438.2 118.2,428.4 117,421.6 115.5,417.1 113.8,413.3 109.9,405.7 108.1,402 106.1,396.7 102.8,386.9 101.1,382.3 99.1,377.8 93.8,367.6 91.2,360.4 89.9,355.9 89.3,352.1 89.1,348.3 89.5,345.3 90.7,342.3 92.3,339.9 94.7,337 97.9,334 99.8,332.6 102.1,331.5 106.6,329.7 110.1,328.7 113.4,328.2 116.4,327.9 124.7,328.2 127.8,328 130,327.6 131.5,327.1 135.3,325.4 140,322.7 143.6,321.1 147.4,320.3 151.2,320.2 153.4,320.6 155.7,321.1 161.7,323.2 164.7,324 173.1,325.4 176.1,326.1 179.1,327.3 180.6,328.2 182.1,329.3 184.3,331.7 185.9,334.8 187,337.8 188.9,346.3 189.8,348.3 191.2,350.6 192.6,352.1 194.3,353.6 204,360.2 207,362.7 210,366 212.8,370.2 214,372.5 215.1,375.5 217.1,384.6 218.6,389.1 220.3,392.9 224.4,400.4 226.2,405 227,408 228.8,417.1 232.5,430.6 234.6,437.4 235.1,439.7 235.3,442 235.4,445 235,448 234.4,450.3 233.5,452.7 230.3,460.1 227.1,469.9 225.1,474.6 222.9,478.6 216.4,488.8 210.7,498.6 207.9,503.1 206.2,505.4 204.2,507.7 202.5,509.1 201,510 199.4,510.7 197.2,511.1 195.7,511.1 193.4,510.8Z" fill="#31668e" stroke="#2a2a2a" stroke-width="0.55" stroke-opacity="0.7" fill-rule="evenodd"/>
<path d="M44,541.6 285.5,541.6 285.5,300 44,300 44,541.6ZM192.7,515.4 186.6,513.8 179.1,512.1 175.3,511.1 170.8,509.3 167,507.4 162.8,504.6 157.2,500.2 149.6,494.6 147.4,492.6 145.9,490.9 142.1,486 132.3,471.3 125.5,460.8 124,457.8 118.7,446.4 116.4,440.8 113.8,432.9 112.9,429.1 111.6,422.3 110.7,419.3 108.9,415.4 102.8,405 100.2,399.7 90.8,375.8 88.1,368 86.2,361.2 85.1,356.7 84.5,352.1 84.4,348.3 84.8,344.6 85.5,341.6 87.4,337 89.2,333.9 90.8,332.6 99.8,326.8 103.6,324.8 106.6,323.4 109.6,322.5 112.7,321.8 126.2,319.7 129.3,319 133.8,317.7 139.8,316 144.4,315.3 148.9,315.1 153.4,315.6 157.2,316.5 176.8,322 179.1,322.9 181.4,324.1 184.7,326.5 187.4,329.3 189.5,332.5 190.9,335.5 194.1,343.1 196.3,346.8 198,348.9 199.6,350.6 206.3,356.5 209.4,359.7 212.3,363.3 216.4,369.5 217.7,371.8 219.1,374.8 223.1,385.3 228.9,397.8 230.3,401.2 231.3,404.2 232.8,410.3 238,433.7 238.8,438.9 239.2,444.2 239,448 238.2,452.5 232.6,470.7 230.2,476.7 227,482.7 214.6,503.3 212.1,506.9 210,509.5 208.1,511.4 206.3,512.9 204,514.3 201.7,515.2 199.5,515.7 197.2,515.9 194.9,515.8 192.7,515.4Z" fill="#2c728e" stroke="#2a2a2a" stroke-width="0.55" stroke-opacity="0.7" fill-rule="evenodd"/>
<path d="M44,541.6 285.5,541.6 285.5,300 44,300 44,541.6ZM196.5,521.2 192.7,520.7 186.6,519.1 179.8,518.4 176.1,517.7 171.5,516.5 167.8,514.9 164.7,513.3 161,510.9 148.9,501.9 144.4,498 140.9,494.1 135.9,487.3 127,473.6 122.8,466.9 120,461.6 115.7,452.1 112.8,445 108.8,432.9 106.5,423.8 105.7,421.6 103.7,417.8 96.8,407.2 93.9,402 90.6,394.4 87,384.6 84.6,376.3 82.4,367.2 80.9,359.7 80.2,353.6 80.1,348.3 80.6,343.1 81.3,340 81.9,337.8 83.6,334 85.1,331.7 87,329.9 91,327.2 98.3,321.9 102.8,319.3 106.6,317.6 111.1,316.2 128.5,312.2 136.1,310.9 142.1,310.4 148.1,310.5 153.4,311.2 159.5,312.7 172.3,316.5 176.8,318 179.8,319.2 182.1,320.3 184.4,321.7 186.6,323.4 189.7,326.3 192.1,329.5 193.9,332.5 198,340.3 200.2,343.8 202.7,346.8 209.3,353.7 212.3,357.2 214.1,359.7 216.9,364.2 221.1,370.2 224,375.5 231.2,390.9 233.4,395.9 235,400.4 236.4,405 237.5,409.5 240.2,422.8 242,434.4 242.9,444.2 242.7,449.5 241.9,454.8 240.2,461.5 237.4,471.4 234.9,478.2 233.2,482 231.2,485.7 219.2,506.1 216.8,509.7 214.9,512.2 212.9,514.4 210.8,516.3 208.5,518 206.3,519.3 204,520.2 201.7,520.8 199.5,521.2 196.5,521.2Z" fill="#277e8e" stroke="#2a2a2a" stroke-width="0.55" stroke-opacity="0.7" fill-rule="evenodd"/>
<path d="M44,541.6 285.5,541.6 285.5,300 44,300 44,541.6ZM190.4,528 182.9,527.5 176.8,526.4 171.5,524.7 169.3,523.7 166.3,522.1 162.5,519.8 158.7,517.2 153.4,513.3 148.1,509.1 142.1,503.6 139.5,500.9 137,497.8 132.6,491.8 127.6,484.2 121,473.6 117.2,466.8 114.3,460.8 109.7,450.3 105.8,439.7 100.2,425.4 97.8,420.8 90.7,410.3 86.8,403.5 85.3,400.4 84,397.2 82.8,393.6 81.7,389.9 79.4,379.9 77.5,369.5 76.3,361.2 75.7,354.4 75.9,346.8 76.6,340 77.2,337 77.9,334.8 78.7,332.8 79.6,331 81.9,328 84.7,325.4 95.1,317.4 98.3,315.3 101.3,313.8 106.6,311.7 114.9,309.3 125.5,306.8 132.3,305.9 139.1,305.5 145.1,305.7 151.2,306.4 157.2,307.7 172.3,312.4 179.1,315 182.1,316.4 185.3,318.1 188.2,320.1 190.4,322 193.3,324.9 195.6,328 201.5,337.8 204,341.3 206.8,344.6 212.3,350.7 215.3,354.4 220.6,362.5 224.5,368 226.5,371 230.9,379.3 236.3,390.6 238.9,397.4 241.3,405.7 243.4,415.5 245.1,426.9 246.3,439.7 246.5,444.2 246.5,448 245.9,454.8 244.3,463.1 241.7,472.9 240.5,476.7 239.1,480.5 237,485 234.3,490.3 224.1,508.4 220.2,514.4 218.4,516.7 216.1,519.2 213.8,521.2 210.8,523.4 207.8,525.1 204.8,526.3 201.7,527.2 198,527.8 194.2,528.1 190.4,528Z" fill="#238a8d" stroke="#2a2a2a" stroke-width="0.55" stroke-opacity="0.7" fill-rule="evenodd"/>
<path d="M44,541.6 285.5,541.6 285.5,300 44,300 44,541.6ZM182.1,537.2 177.6,536.2 172.3,534.4 167.8,532.3 164,529.8 148.1,517.1 143.6,513.1 138.2,507.7 132.7,500.9 127.8,493.8 122.9,486.5 118.3,479 114.5,472.2 111.1,465.4 99.8,440.3 94.8,429.9 91.3,423.8 82.3,410.3 78.9,404.2 77.6,401.2 76.8,398.9 75.6,393.6 71.9,368.7 71.1,359.7 70.9,353.6 71.6,340.8 72.2,335.5 72.8,332.5 73.8,329.5 74.9,327.2 76.2,324.9 77.9,322.7 80.2,320.3 83.2,317.7 87,314.7 90,312.6 93,310.8 96,309.3 99.1,308 103.6,306.4 108.9,304.9 114.9,303.4 121.7,302 126.2,301.3 130,300.9 134.5,300.7 139.1,300.6 146.6,301.2 150.4,301.8 154.2,302.6 160.2,304.3 173.8,308.9 180.6,311.7 186.6,314.9 191.2,318 194.9,321.4 197.2,323.9 199.2,326.5 204.7,334.8 206.3,336.9 215.3,347.2 218.7,351.4 228.6,365.7 231.9,371 234.4,375.5 237.5,381.6 239.9,386.9 241.8,391.4 243.4,395.9 244.8,400.7 246.1,405.7 247.1,411 248,416.3 248.7,422.3 249.9,437.4 250.2,447.3 250.1,451.7 249.7,455.6 249,460.8 247.9,466.1 246.7,471.4 245.2,476.7 243.9,480.5 242.2,485 240.1,489.5 237.5,494.8 229.1,510.7 225.1,517.1 222.9,520.2 220.6,522.9 218.4,525.2 215.3,527.7 212.3,529.7 208.5,531.8 204.8,533.3 200.2,534.8 194.9,536.1 189.7,537 185.9,537.3 182.1,537.2Z" fill="#1f968b" stroke="#2a2a2a" stroke-width="0.55" stroke-opacity="0.7" fill-rule="evenodd"/>
<path d="M44,541.6 170.7,541.6 165.5,539.2 161.3,536.3 151.9,528 142.9,520.7 138.7,516.7 134.5,512 129.3,505 121.3,493.3 115.6,484.2 109.3,472.9 101.3,456.6 94.9,444.2 86.7,429.9 75.6,412.5 73.1,408 71.3,404.2 70.3,401.2 69.4,396.7 66,366.5 65.6,360.4 65.4,355.1 65.8,337.8 66.1,333.2 66.6,328.7 67.4,325.2 68.4,321.9 69.8,318.9 71.9,315.7 74.5,312.9 77.9,310.1 82,307.6 86.5,305.3 91.5,303.3 97,301.5 102.9,300 44,300 44,541.6ZM202.1,541.6 285.5,541.6 285.5,300 191.9,300 160.6,300 172.3,304.2 180.6,307.7 188.2,311.6 191.3,313.6 194.3,315.9 197.8,318.9 201.4,322.7 203.8,325.7 209.3,333 219.9,344.7 222.9,348.3 226.2,352.9 233.3,363.4 238.1,371.8 243.4,382.3 245.3,386.9 247,391.4 248.4,395.9 249.7,400.4 251.5,409.5 252.7,419.3 253.5,432.2 254,444.2 253.9,451 253.4,457.8 252.5,464.6 250.8,472.9 248.7,480.5 245.9,488 242.5,495.8 235,511.2 231.9,516.9 228.3,522.8 224.8,527.3 222.6,529.5 220.2,531.8 217.6,533.8 215.1,535.6 212.3,537.2 209.3,538.8 205.5,540.4 202.1,541.6Z" fill="#1fa287" stroke="#2a2a2a" stroke-width="0.55" stroke-opacity="0.7" fill-rule="evenodd"/>
<path d="M44,541.6 158,541.6 154.9,539.1 147.4,532.2 138.3,525.3 136.1,523.1 133.8,520.6 130.8,516.7 126.2,510 115.1,493.3 109.9,485 104,474.4 96.8,460.1 93,453.2 81.3,433.7 72.6,419.9 69.8,414.8 67.6,410.3 65.5,405 64.1,399.7 63.4,395.2 61.6,379.3 59.8,366.5 59.2,358.2 58.4,324.9 58.5,319.7 59,315.9 59.5,313.6 60.6,311.1 61.9,309.1 64,306.8 65.8,305.3 68.9,303.3 72.4,301.5 76,300 44,300 44,541.6ZM217.5,541.6 285.5,541.6 285.5,300 200.2,300 172.8,300 180.6,303.5 188.9,307.8 194.9,311.6 200.4,315.9 205.8,321.2 213.1,329.2 222.1,338.8 227.1,344.6 231.7,350.6 236.7,358.2 241.4,366.5 246.3,376.3 250.2,385.3 252.7,392.9 254.8,401.2 256.2,409.5 257.1,417.8 257.5,426.1 257.9,445.7 257.9,451 257.6,456.3 256.9,463.1 255.7,470.7 254.1,477.5 252.2,484.2 249.3,492.2 245.5,501.2 238.4,516.7 236.5,520.6 234.4,524.3 230.7,529.5 226.8,534.1 222.1,538.3 217.5,541.6Z" fill="#28ae80" stroke="#2a2a2a" stroke-width="0.55" stroke-opacity="0.7" fill-rule="evenodd"/>
<path d="M44,541.6 148.2,541.6 142.9,537.2 134.5,531.3 132.3,529.3 130,526.7 127,522.2 118.8,508.4 107.7,491.8 102.1,482.7 97.9,475.2 88.5,457.3 84.8,451 70.4,428 67.1,422.3 64.3,416.7 61.6,410.3 59.5,403.5 58.2,396.7 56.6,385.3 52.8,363.4 51,339.3 50,328.7 48.8,319.7 48.5,315.1 48.8,310.6 49.4,308.3 49.9,306.8 50.7,305.3 52.3,303.2 53.8,301.6 55.5,300 44,300 44,541.6ZM227.7,541.6 285.5,541.6 285.5,300 206.3,300 182.7,300 189.7,303.7 195.7,307.4 202.2,312.1 207.7,316.6 219.9,328 224.4,332.6 231.6,340.8 237.9,349.1 241.8,355.1 245.9,362.7 251.2,374 254.9,383.1 257.1,389.9 259.1,397.4 260.5,405 261.3,412.5 261.7,417.8 261.9,423.8 261.8,435.9 262,450.3 261.8,456.3 261.3,462.4 260.5,468.4 259.2,475.2 257.8,481.2 255.3,489.5 252,498.6 245.6,514.4 241.8,522.8 238.7,528.4 235.7,532.9 231.9,537.4 227.7,541.6Z" fill="#38b977" stroke="#2a2a2a" stroke-width="0.55" stroke-opacity="0.7" fill-rule="evenodd"/>
<path d="M44,541.6 136.7,541.6 131.5,538 128.6,535.6 127,533.9 124.9,531.1 122.5,526.7 117.1,516 114.2,510.9 111,506.1 100.9,491.8 94.7,482 91.3,475.9 82.6,459.3 78.7,452.8 66.7,433.7 63.6,428.2 60.7,422.3 58.4,417.1 56.5,411.8 54.8,406.5 53.6,401.2 52.3,395.2 50.2,383.1 46.3,365 45.4,358.9 44,347.2 44,541.6ZM236.1,541.6 285.5,541.6 285.5,300 210.8,300 191.6,300 198.7,304.5 207,310.3 214.2,315.9 224.4,324.3 228.8,328.7 234.7,335.5 240.2,342.3 244,347.5 247,352.4 250.8,359.9 255.8,371 259.4,380.1 261.6,386.9 263.6,394.4 264.9,401.2 265.9,408.7 266.4,414.8 266.6,420.8 266.5,426.1 266.1,438.2 266.3,451 266.2,455.6 265.9,460.8 265.2,466.9 264.2,472.9 262.9,479.4 260.7,488 257.8,497.1 253.1,510.1 248.6,521.5 245.5,528 243,532.6 239.9,537.1 236.1,541.6ZM44,300.8 44,300.8 44,300.8 44.5,300 44,300 44,300.8Z" fill="#50c46a" stroke="#2a2a2a" stroke-width="0.55" stroke-opacity="0.7" fill-rule="evenodd"/>
<path d="M44,541.6 126.5,541.6 122.8,537.9 121.1,535.6 119.6,533.3 117.1,528.8 111.8,517.5 108.9,512.5 105.9,508.2 96.3,495.6 90.2,486.5 85.8,479 78.6,465.4 74.9,458.6 65.8,444.2 61.7,437.4 58.5,431.4 55.4,424.6 52.5,417.1 50.5,411 48.8,405 46.9,397.4 44,383.8 44,541.6ZM243.5,541.6 285.5,541.6 285.5,300 213.8,300 199.9,300 207.8,305.2 214.3,309.8 223.3,316.6 228.7,321.2 233.5,325.9 239.4,332.5 244.8,339.1 248.7,344.6 251.9,349.9 255.4,356.7 260,367.2 263.9,377 266.1,383.8 268.1,391.4 269.5,398.2 270.7,405.7 271.4,413.3 271.7,421.6 271.5,429.1 270.5,439.7 271.1,448.8 271.1,454 270.7,459.3 270.1,464.6 269.1,471.4 267.9,478.2 266,486.5 263.5,495.6 259.5,507.7 255.4,519 252.3,526.5 249.4,532.6 246.8,537.1 243.5,541.6Z" fill="#6ccd5a" stroke="#2a2a2a" stroke-width="0.55" stroke-opacity="0.7" fill-rule="evenodd"/>
<path d="M44,541.6 119.1,541.6 116.4,538 113.9,534.1 111.9,530.3 107.4,520.9 104.5,516 101.3,511.6 90.9,498.6 87.7,494.1 84.7,489.5 80.7,482.7 68.1,460.1 58.3,444.2 55.8,439.7 53.8,435.9 51.5,430.6 48.9,423.8 46.2,416.3 44,409.2 44,541.6ZM250.2,541.6 285.5,541.6 285.5,300 216.1,300 208.4,300 216.8,305.7 224.4,311.2 230.2,315.9 235.2,320.4 241,326.5 247,333.5 251.9,340 255.8,346.1 259,352.1 262.2,358.9 266,368 269.1,376.3 271.2,383.1 273,389.9 274.4,396.7 275.6,403.5 276.5,411 277,418.6 277.6,439.7 275.9,458.6 275,465.4 273.2,475.9 271.5,484.2 269.2,493.3 265.9,504.6 262.4,515.2 259.3,523.5 256.5,530.3 253.4,536.3 250.2,541.6Z" fill="#8bd646" stroke="#2a2a2a" stroke-width="0.55" stroke-opacity="0.7" fill-rule="evenodd"/>
<path d="M44,541.6 112.9,541.6 108.9,535.4 103.6,525.2 100.7,520.5 96.8,515.2 86.7,503.1 82.5,497.4 78.3,491 71.1,478.7 67.5,472.9 62.5,464.6 50.7,443.6 47.5,436.7 44,427.8 44,541.6ZM256.5,541.6 285.5,541.6 285.5,300 219.1,300 217,300 225.1,305.8 231.9,311 237.5,315.9 243.3,321.6 247.8,326.6 252.3,332.1 256.1,337.3 259.3,342.3 262.7,348.3 266,355.1 269.7,363.6 273.1,372.5 275.6,380.1 277.7,387.6 279.4,395.2 280.7,402.7 281.6,409.5 282.4,417.1 283.8,434.4 283.9,438.9 283.4,445 280.2,465.4 277.7,479 275.7,488 273.2,497.8 269.9,509.2 266.3,519.7 263.2,528 259.9,535.3 256.5,541.6Z" fill="#addc30" stroke="#2a2a2a" stroke-width="0.55" stroke-opacity="0.7" fill-rule="evenodd"/>
<path d="M44,541.6 107.1,541.6 104.8,537.9 99.8,528.9 97.4,525 93.8,520.3 84,509.2 78.6,502.4 74,495.6 66.7,483.5 64.2,479.7 58.8,472.2 56.8,468.9 47,449.9 44,443.7 44,541.6ZM262.4,541.6 285.5,541.6 285.5,465.5 282.9,479 280.7,488.8 278.3,498.6 275.2,509.2 272.1,519 269,527.3 265.8,534.8 262.4,541.6ZM285.5,400.4 285.5,300 225.9,300 225.3,300 232.4,305.3 238.8,310.6 243.7,315.1 248.1,319.7 252.8,324.9 256.9,330 260.6,335.3 264.1,340.8 267.4,346.8 271.1,354.4 274.4,361.9 277.5,370.2 280.1,377.8 282.2,385.3 284,392.9 285.5,400.4Z" fill="#cde11d" stroke="#2a2a2a" stroke-width="0.55" stroke-opacity="0.7" fill-rule="evenodd"/>
<path d="M44,541.6 101.5,541.6 96.8,533.3 93.8,528.8 90.1,524.3 80.5,513.7 75.7,507.9 71.1,501.6 66.1,493.3 62.8,488 59.8,483.5 57.5,480.5 53.5,475.9 51.9,473.7 49.2,468.8 44,457.9 44,541.6ZM268.2,541.6 285.5,541.6 285.5,490.7 281.7,505.4 277.2,519.8 275.1,525.8 272.7,531.8 270.4,537.1 268.2,541.6ZM285.4,378.5 285.5,378.9 285.5,300 233.5,300 233.3,300 238.7,304.4 243.3,308.3 247.3,312.1 251,315.9 254.6,319.8 258.4,324.3 261.8,328.7 265.2,333.6 268.2,338.4 270.8,343.1 273.6,348.3 276.1,353.6 278.7,359.7 281.1,365.7 283.3,371.9 285.4,378.5Z" fill="#efe51c" stroke="#2a2a2a" stroke-width="0.55" stroke-opacity="0.7" fill-rule="evenodd"/>
<path d="M44,541.6 96,541.6 92.3,535.3 89.7,531.8 86.2,527.8 75.7,516.3 70.4,509.9 66.9,504.6 59.8,493.2 56.4,488 52.6,482.7 47.9,477.5 45.8,474.4 44,471.2 44,541.6ZM273.9,541.6 285.5,541.6 285.5,510.5 282.9,519 280,527.3 277,534.8 273.9,541.6ZM285.3,363.4 285.5,364 285.5,300 240.8,300 248.5,306.8 255.2,313.6 261.4,320.6 266.9,328 271.9,335.5 276.6,343.8 281,353.1 285.3,363.4Z" fill="#fff" stroke="#2a2a2a" stroke-width="0.55" stroke-opacity="0.7" fill-rule="evenodd"/>
</g>
<circle cx="127.00" cy="439.70" r="30.20" fill="none" stroke="#000" stroke-width="1.05" stroke-dasharray="3.7,1.6"/>
<circle cx="127.00" cy="439.70" r="60.40" fill="none" stroke="#000" stroke-width="1.05" stroke-dasharray="3.7,1.6"/>
<circle cx="127.00" cy="439.70" r="90.60" fill="none" stroke="#000" stroke-width="1.05" stroke-dasharray="3.7,1.6"/>
<circle cx="127.00" cy="439.70" r="120.80" fill="none" stroke="#000" stroke-width="1.05" stroke-dasharray="3.7,1.6"/>
<circle cx="127.00" cy="439.70" r="151.00" fill="none" stroke="#000" stroke-width="1.05" stroke-dasharray="3.7,1.6"/>
<line x1="127.00" y1="307.57" x2="127.00" y2="534.08" stroke="#000" stroke-width="1.45"/>
<line x1="51.50" y1="439.70" x2="278.00" y2="439.70" stroke="#000" stroke-width="1.45"/>
<path d="M118.50,376.73H135.50M127.00,368.23V385.23" stroke="#f00" stroke-width="2.1" fill="none"/>
<circle cx="89.7" cy="333.1" r="1.8" fill="#000"/>
<circle cx="100.1" cy="335.5" r="1.8" fill="#000"/>
<circle cx="115.8" cy="339.0" r="1.8" fill="#000"/>
<circle cx="101.5" cy="345.2" r="1.8" fill="#000"/>
<circle cx="102.3" cy="353.6" r="1.8" fill="#000"/>
<circle cx="101.0" cy="355.6" r="1.8" fill="#000"/>
<circle cx="99.8" cy="362.9" r="1.8" fill="#000"/>
<circle cx="110.7" cy="364.9" r="1.8" fill="#000"/>
<circle cx="124.5" cy="365.0" r="1.8" fill="#000"/>
<circle cx="141.3" cy="346.6" r="1.8" fill="#000"/>
<circle cx="137.4" cy="359.0" r="1.8" fill="#000"/>
<circle cx="141.6" cy="360.7" r="1.8" fill="#000"/>
<circle cx="136.8" cy="365.0" r="1.8" fill="#000"/>
<circle cx="137.8" cy="366.7" r="1.8" fill="#000"/>
<circle cx="124.0" cy="371.3" r="1.8" fill="#000"/>
<circle cx="125.8" cy="373.8" r="1.8" fill="#000"/>
<circle cx="127.0" cy="375.5" r="1.8" fill="#000"/>
<circle cx="131.2" cy="374.6" r="1.8" fill="#000"/>
<circle cx="138.4" cy="378.3" r="1.8" fill="#000"/>
<circle cx="139.6" cy="379.2" r="1.8" fill="#000"/>
<circle cx="125.8" cy="386.9" r="1.8" fill="#000"/>
<circle cx="134.2" cy="384.7" r="1.8" fill="#000"/>
<circle cx="131.2" cy="391.1" r="1.8" fill="#000"/>
<circle cx="137.1" cy="390.6" r="1.8" fill="#000"/>
<circle cx="132.9" cy="394.0" r="1.8" fill="#000"/>
<circle cx="142.1" cy="396.5" r="1.8" fill="#000"/>
<circle cx="130.4" cy="398.2" r="1.8" fill="#000"/>
<circle cx="122.3" cy="401.5" r="1.8" fill="#000"/>
<circle cx="139.1" cy="402.0" r="1.8" fill="#000"/>
<circle cx="134.6" cy="404.0" r="1.8" fill="#000"/>
<circle cx="137.9" cy="407.4" r="1.8" fill="#000"/>
<circle cx="133.7" cy="412.8" r="1.8" fill="#000"/>
<circle cx="143.8" cy="370.4" r="1.8" fill="#000"/>
<circle cx="143.8" cy="386.4" r="1.8" fill="#000"/>
<circle cx="148.1" cy="331.3" r="1.8" fill="#000"/>
<circle cx="152.3" cy="330.4" r="1.8" fill="#000"/>
<circle cx="166.3" cy="337.1" r="1.8" fill="#000"/>
<circle cx="177.0" cy="336.5" r="1.8" fill="#000"/>
<circle cx="172.6" cy="345.5" r="1.8" fill="#000"/>
<circle cx="154.0" cy="352.3" r="1.8" fill="#000"/>
<circle cx="147.1" cy="362.4" r="1.8" fill="#000"/>
<circle cx="151.0" cy="365.0" r="1.8" fill="#000"/>
<circle cx="152.3" cy="366.2" r="1.8" fill="#000"/>
<circle cx="156.5" cy="366.2" r="1.8" fill="#000"/>
<circle cx="159.4" cy="365.4" r="1.8" fill="#000"/>
<circle cx="161.9" cy="364.5" r="1.8" fill="#000"/>
<circle cx="169.1" cy="360.0" r="1.8" fill="#000"/>
<circle cx="145.4" cy="369.6" r="1.8" fill="#000"/>
<circle cx="178.7" cy="366.7" r="1.8" fill="#000"/>
<circle cx="181.7" cy="369.1" r="1.8" fill="#000"/>
<circle cx="180.4" cy="374.1" r="1.8" fill="#000"/>
<circle cx="191.0" cy="369.6" r="1.8" fill="#000"/>
<circle cx="171.6" cy="380.5" r="1.8" fill="#000"/>
<circle cx="151.5" cy="381.8" r="1.8" fill="#000"/>
<circle cx="153.2" cy="383.5" r="1.8" fill="#000"/>
<circle cx="154.3" cy="384.2" r="1.8" fill="#000"/>
<circle cx="151.8" cy="388.9" r="1.8" fill="#000"/>
<circle cx="153.2" cy="390.6" r="1.8" fill="#000"/>
<circle cx="153.8" cy="392.3" r="1.8" fill="#000"/>
<circle cx="148.4" cy="393.1" r="1.8" fill="#000"/>
<circle cx="180.4" cy="386.9" r="1.8" fill="#000"/>
<circle cx="179.0" cy="389.7" r="1.8" fill="#000"/>
<circle cx="182.9" cy="392.6" r="1.8" fill="#000"/>
<circle cx="174.2" cy="392.6" r="1.8" fill="#000"/>
<circle cx="179.5" cy="395.1" r="1.8" fill="#000"/>
<circle cx="183.4" cy="397.3" r="1.8" fill="#000"/>
<circle cx="193.0" cy="394.8" r="1.8" fill="#000"/>
<circle cx="141.4" cy="396.5" r="1.8" fill="#000"/>
<circle cx="157.7" cy="402.7" r="1.8" fill="#000"/>
<circle cx="158.5" cy="404.0" r="1.8" fill="#000"/>
<circle cx="145.4" cy="406.9" r="1.8" fill="#000"/>
<circle cx="158.5" cy="406.6" r="1.8" fill="#000"/>
<circle cx="146.8" cy="409.9" r="1.8" fill="#000"/>
<circle cx="184.2" cy="410.3" r="1.8" fill="#000"/>
<circle cx="157.7" cy="413.8" r="1.8" fill="#000"/>
<circle cx="203.5" cy="368.2" r="1.8" fill="#000"/>
<circle cx="196.4" cy="388.7" r="1.8" fill="#000"/>
<circle cx="209.4" cy="406.9" r="1.8" fill="#000"/>
<circle cx="211.0" cy="409.7" r="1.8" fill="#000"/>
<circle cx="217.4" cy="408.1" r="1.8" fill="#000"/>
<circle cx="206.8" cy="421.8" r="1.8" fill="#000"/>
<circle cx="220.3" cy="425.7" r="1.8" fill="#000"/>
<circle cx="189.7" cy="424.9" r="1.8" fill="#000"/>
<circle cx="134.8" cy="405.8" r="1.8" fill="#000"/>
<circle cx="145.2" cy="407.0" r="1.8" fill="#000"/>
<circle cx="158.3" cy="407.0" r="1.8" fill="#000"/>
<circle cx="143.5" cy="415.4" r="1.8" fill="#000"/>
<circle cx="170.4" cy="419.8" r="1.8" fill="#000"/>
<circle cx="154.8" cy="423.5" r="1.8" fill="#000"/>
<circle cx="151.1" cy="427.7" r="1.8" fill="#000"/>
<circle cx="150.3" cy="429.4" r="1.8" fill="#000"/>
<circle cx="171.3" cy="430.2" r="1.8" fill="#000"/>
<circle cx="127.6" cy="434.4" r="1.8" fill="#000"/>
<circle cx="160.8" cy="441.1" r="1.8" fill="#000"/>
<circle cx="172.4" cy="442.3" r="1.8" fill="#000"/>
<circle cx="171.8" cy="446.2" r="1.8" fill="#000"/>
<circle cx="176.3" cy="449.0" r="1.8" fill="#000"/>
<circle cx="160.3" cy="452.9" r="1.8" fill="#000"/>
<circle cx="157.8" cy="459.1" r="1.8" fill="#000"/>
<circle cx="157.0" cy="461.3" r="1.8" fill="#000"/>
<circle cx="156.6" cy="467.7" r="1.8" fill="#000"/>
<circle cx="178.8" cy="458.4" r="1.8" fill="#000"/>
<circle cx="172.6" cy="473.1" r="1.8" fill="#000"/>
<circle cx="161.7" cy="479.5" r="1.8" fill="#000"/>
<circle cx="171.8" cy="489.0" r="1.8" fill="#000"/>
<circle cx="178.0" cy="487.4" r="1.8" fill="#000"/>
<circle cx="183.4" cy="437.1" r="1.8" fill="#000"/>
<circle cx="186.0" cy="439.8" r="1.8" fill="#000"/>
<circle cx="200.3" cy="441.0" r="1.8" fill="#000"/>
<circle cx="227.1" cy="446.4" r="1.8" fill="#000"/>
<circle cx="180.4" cy="443.5" r="1.8" fill="#000"/>
<circle cx="182.6" cy="448.2" r="1.8" fill="#000"/>
<circle cx="192.7" cy="445.5" r="1.8" fill="#000"/>
<circle cx="194.0" cy="447.2" r="1.8" fill="#000"/>
<circle cx="199.9" cy="452.3" r="1.8" fill="#000"/>
<circle cx="204.8" cy="454.1" r="1.8" fill="#000"/>
<circle cx="180.1" cy="459.5" r="1.8" fill="#000"/>
<circle cx="193.5" cy="459.5" r="1.8" fill="#000"/>
<circle cx="196.6" cy="462.0" r="1.8" fill="#000"/>
<circle cx="208.7" cy="459.8" r="1.8" fill="#000"/>
<circle cx="216.7" cy="468.2" r="1.8" fill="#000"/>
<circle cx="180.9" cy="474.6" r="1.8" fill="#000"/>
<circle cx="184.8" cy="471.8" r="1.8" fill="#000"/>
<circle cx="182.6" cy="478.0" r="1.8" fill="#000"/>
<circle cx="186.0" cy="478.0" r="1.8" fill="#000"/>
<circle cx="184.3" cy="481.8" r="1.8" fill="#000"/>
<circle cx="207.3" cy="472.9" r="1.8" fill="#000"/>
<circle cx="205.8" cy="475.1" r="1.8" fill="#000"/>
<circle cx="178.7" cy="485.5" r="1.8" fill="#000"/>
<circle cx="180.1" cy="488.1" r="1.8" fill="#000"/>
<circle cx="192.4" cy="491.4" r="1.8" fill="#000"/>
<circle cx="199.9" cy="488.6" r="1.8" fill="#000"/>
<circle cx="196.6" cy="506.1" r="1.8" fill="#000"/>
</g>
<rect x="51.50" y="307.57" width="226.50" height="226.50" fill="none" stroke="#000" stroke-width="0.8"/>
<line x1="51.50" y1="534.08" x2="51.50" y2="537.58" stroke="#000" stroke-width="0.8"/>
<text x="51.50" y="554.88" text-anchor="middle" class="t">−10</text>
<line x1="127.00" y1="534.08" x2="127.00" y2="537.58" stroke="#000" stroke-width="0.8"/>
<text x="127.00" y="554.88" text-anchor="middle" class="t">0</text>
<line x1="202.50" y1="534.08" x2="202.50" y2="537.58" stroke="#000" stroke-width="0.8"/>
<text x="202.50" y="554.88" text-anchor="middle" class="t">10</text>
<line x1="278.00" y1="534.08" x2="278.00" y2="537.58" stroke="#000" stroke-width="0.8"/>
<text x="278.00" y="554.88" text-anchor="middle" class="t">20</text>
<line x1="48.00" y1="515.20" x2="51.50" y2="515.20" stroke="#000" stroke-width="0.8"/>
<text x="41.70" y="520.80" text-anchor="end" class="t">−10</text>
<line x1="48.00" y1="477.45" x2="51.50" y2="477.45" stroke="#000" stroke-width="0.8"/>
<text x="41.70" y="483.05" text-anchor="end" class="t">−5</text>
<line x1="48.00" y1="439.70" x2="51.50" y2="439.70" stroke="#000" stroke-width="0.8"/>
<text x="41.70" y="445.30" text-anchor="end" class="t">0</text>
<line x1="48.00" y1="401.95" x2="51.50" y2="401.95" stroke="#000" stroke-width="0.8"/>
<text x="41.70" y="407.55" text-anchor="end" class="t">5</text>
<line x1="48.00" y1="364.20" x2="51.50" y2="364.20" stroke="#000" stroke-width="0.8"/>
<text x="41.70" y="369.80" text-anchor="end" class="t">10</text>
<line x1="48.00" y1="326.45" x2="51.50" y2="326.45" stroke="#000" stroke-width="0.8"/>
<text x="41.70" y="332.05" text-anchor="end" class="t">15</text>
<text x="164.75" y="570.68" text-anchor="middle" class="t" textLength="46" lengthAdjust="spacingAndGlyphs"><tspan font-style="italic">X</tspan> (kpc)</text>
<text transform="translate(10.60,422.13) rotate(-90)" text-anchor="middle" class="t" textLength="46" lengthAdjust="spacingAndGlyphs"><tspan font-style="italic">Y</tspan> (kpc)</text>
<rect x="294.20" y="522.75" width="11.20" height="11.63" fill="#460a5d"/>
<rect x="294.20" y="511.43" width="11.20" height="11.63" fill="#481c6e"/>
<rect x="294.20" y="500.10" width="11.20" height="11.63" fill="#472d7b"/>
<rect x="294.20" y="488.78" width="11.20" height="11.63" fill="#443b84"/>
<rect x="294.20" y="477.45" width="11.20" height="11.63" fill="#3e4a89"/>
<rect x="294.20" y="466.12" width="11.20" height="11.63" fill="#38598c"/>
<rect x="294.20" y="454.80" width="11.20" height="11.63" fill="#31668e"/>
<rect x="294.20" y="443.48" width="11.20" height="11.63" fill="#2c728e"/>
<rect x="294.20" y="432.15" width="11.20" height="11.63" fill="#277e8e"/>
<rect x="294.20" y="420.83" width="11.20" height="11.63" fill="#238a8d"/>
<rect x="294.20" y="409.50" width="11.20" height="11.63" fill="#1f968b"/>
<rect x="294.20" y="398.18" width="11.20" height="11.63" fill="#1fa287"/>
<rect x="294.20" y="386.85" width="11.20" height="11.63" fill="#28ae80"/>
<rect x="294.20" y="375.52" width="11.20" height="11.63" fill="#38b977"/>
<rect x="294.20" y="364.20" width="11.20" height="11.63" fill="#50c46a"/>
<rect x="294.20" y="352.88" width="11.20" height="11.63" fill="#6ccd5a"/>
<rect x="294.20" y="341.55" width="11.20" height="11.63" fill="#8bd646"/>
<rect x="294.20" y="330.23" width="11.20" height="11.63" fill="#addc30"/>
<rect x="294.20" y="318.90" width="11.20" height="11.63" fill="#cde11d"/>
<rect x="294.20" y="307.57" width="11.20" height="11.63" fill="#efe51c"/>
<rect x="294.20" y="307.57" width="11.20" height="226.50" fill="none" stroke="#000" stroke-width="0.8"/>
<line x1="305.40" y1="534.08" x2="308.90" y2="534.08" stroke="#000" stroke-width="0.8"/>
<text x="315.50" y="539.88" class="t">0.10</text>
<line x1="305.40" y1="488.78" x2="308.90" y2="488.78" stroke="#000" stroke-width="0.8"/>
<text x="315.50" y="494.58" class="t">0.14</text>
<line x1="305.40" y1="443.48" x2="308.90" y2="443.48" stroke="#000" stroke-width="0.8"/>
<text x="315.50" y="449.28" class="t">0.18</text>
<line x1="305.40" y1="398.18" x2="308.90" y2="398.18" stroke="#000" stroke-width="0.8"/>
<text x="315.50" y="403.98" class="t">0.22</text>
<line x1="305.40" y1="352.88" x2="308.90" y2="352.88" stroke="#000" stroke-width="0.8"/>
<text x="315.50" y="358.68" class="t">0.26</text>
<line x1="305.40" y1="307.57" x2="308.90" y2="307.57" stroke="#000" stroke-width="0.8"/>
<text x="315.50" y="313.38" class="t">0.30</text>
<text transform="translate(353.60,421.23) rotate(-90)" text-anchor="middle" class="t" textLength="185" lengthAdjust="spacingAndGlyphs">12 + log(O/H) Std. Dev. (dex)</text>
</svg>
</body></html>
